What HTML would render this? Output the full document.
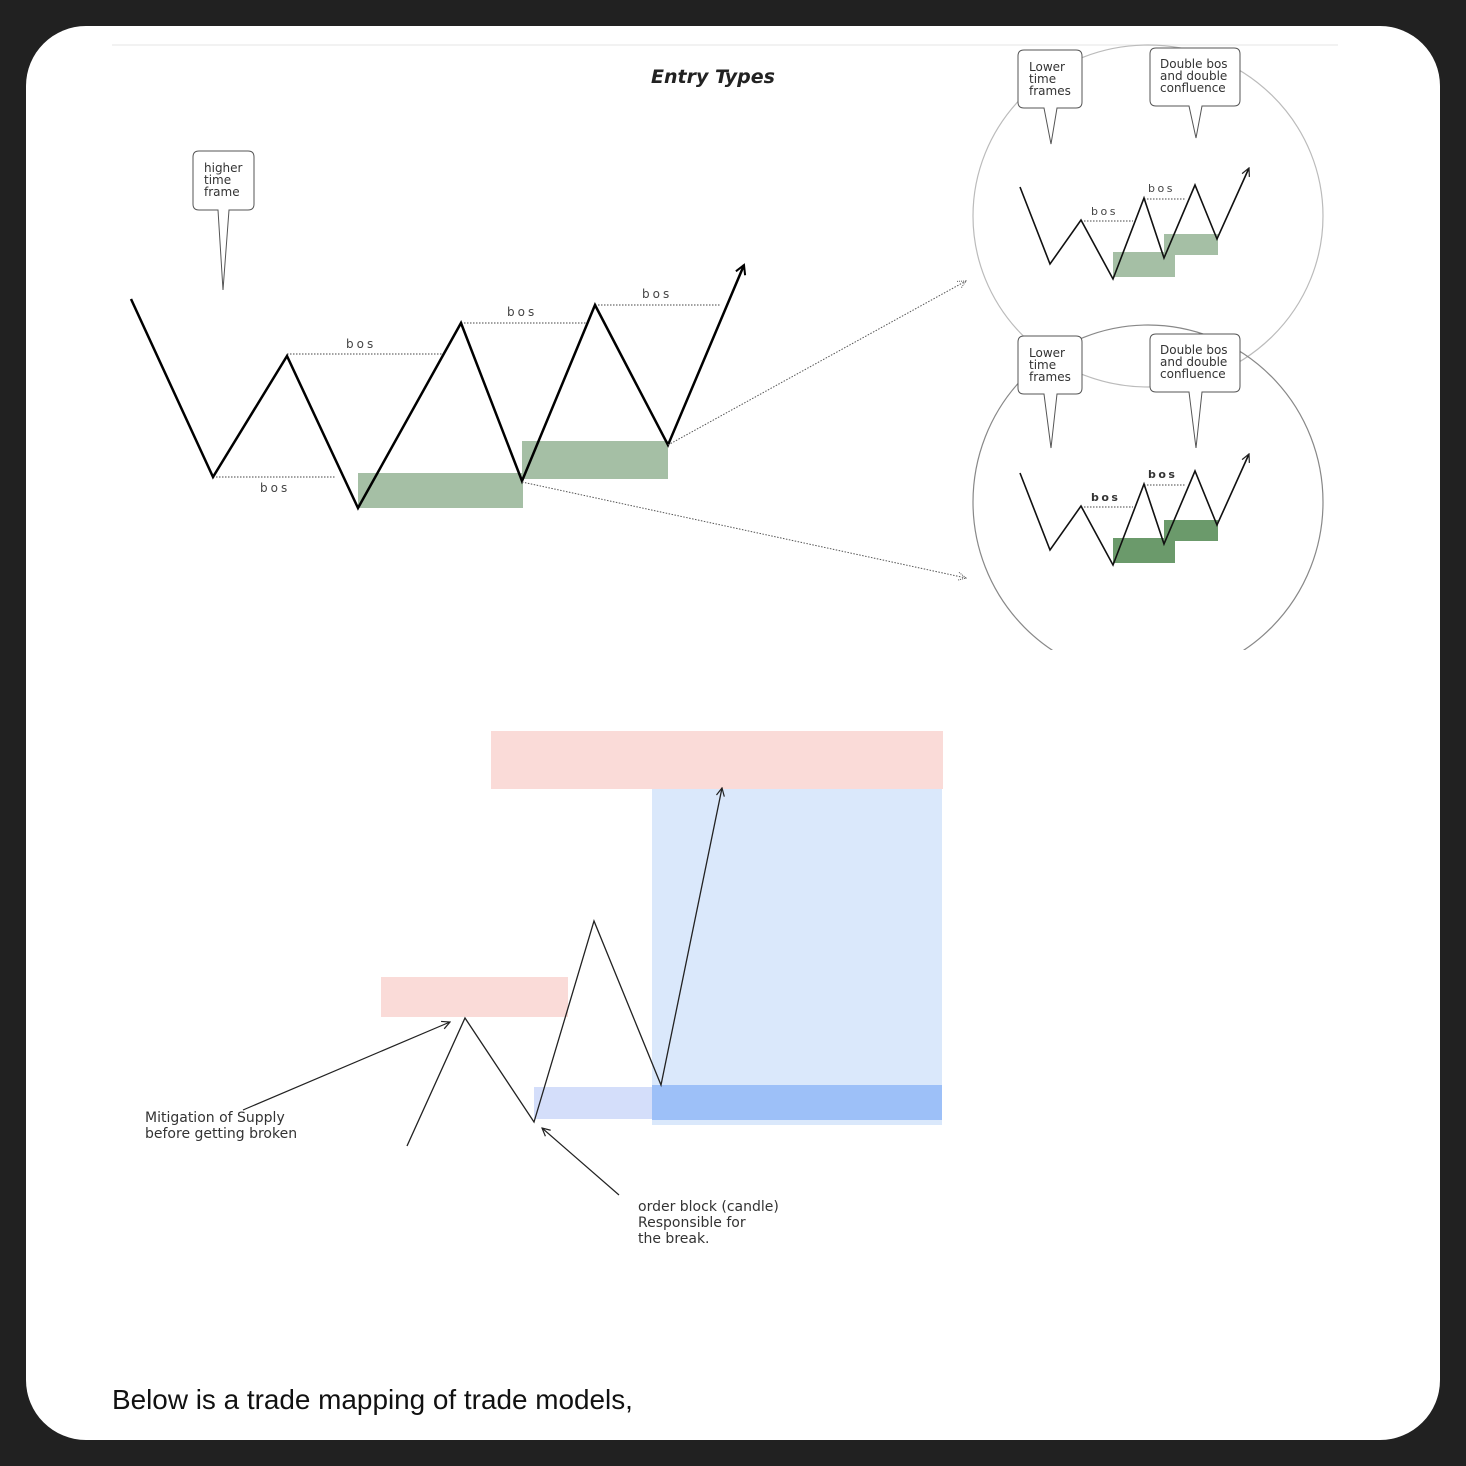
<!DOCTYPE html>
<html><head><meta charset="utf-8"><style>
html,body{margin:0;padding:0;background:#212121;}
svg{display:block}
</style></head><body>
<svg width="1466" height="1466" viewBox="0 0 1466 1466" xmlns="http://www.w3.org/2000/svg" font-family="'DejaVu Sans', 'Liberation Sans', sans-serif">
<defs>
<marker id="ah" markerWidth="12" markerHeight="12" refX="10" refY="6" orient="auto" markerUnits="userSpaceOnUse"><path d="M1,1 L10,6 L1,11" fill="none" stroke="#000" stroke-width="2"/></marker>
<marker id="ahs" markerWidth="10" markerHeight="10" refX="9" refY="5" orient="auto" markerUnits="userSpaceOnUse"><path d="M1,1 L9,5 L1,9" fill="none" stroke="#222" stroke-width="1.2"/></marker>
<marker id="ahd" markerWidth="10" markerHeight="10" refX="9" refY="5" orient="auto" markerUnits="userSpaceOnUse"><path d="M1,1 L9,5 L1,9" fill="none" stroke="#555" stroke-width="1" stroke-dasharray="1 1"/></marker>
</defs>
<rect x="0" y="0" width="1466" height="1466" fill="#212121"/>
<rect x="26" y="26" width="1414" height="1414" rx="60" fill="#fff"/>
<line x1="112" y1="45" x2="1338" y2="45" stroke="#eee" stroke-width="1.5"/>
<text x="713" y="83" font-size="19" font-style="italic" font-weight="bold" text-anchor="middle" fill="#222">Entry Types</text>

<rect x="358" y="473" width="165" height="35" fill="#a5bfa5"/>
<rect x="522" y="441" width="146" height="38" fill="#a5bfa5"/>
<g stroke="#444" stroke-width="1" stroke-dasharray="1.5 1.5">
<line x1="287" y1="354" x2="442" y2="354"/>
<line x1="461" y1="323" x2="590" y2="323"/>
<line x1="595" y1="305" x2="720" y2="305"/>
<line x1="213" y1="477" x2="335" y2="477"/>
</g>
<polyline points="131,299 213,477 287,356 358,508 461,323 522,481 595,305 668,445 744,265" fill="none" stroke="#000" stroke-width="2.5" marker-end="url(#ah)"/>
<g font-size="12" fill="#444" letter-spacing="3">
<text x="346" y="348">bos</text><text x="507" y="316">bos</text><text x="642" y="298">bos</text><text x="260" y="492">bos</text>
</g>
<g stroke="#555" stroke-width="1" stroke-dasharray="1.5 1.5" fill="none">
<line x1="668" y1="445" x2="966" y2="281" marker-end="url(#ahd)"/>
<line x1="522" y1="482" x2="966" y2="578" marker-end="url(#ahd)"/>
</g>
<path d="M199,151 H248 Q254,151 254,157 V204 Q254,210 248,210 H229 L223,290 L218,210 H199 Q193,210 193,204 V157 Q193,151 199,151 Z" fill="#fff" stroke="#555" stroke-width="1"/>
<g font-size="12" fill="#333"><text x="204" y="172">higher</text><text x="204" y="184">time</text><text x="204" y="196">frame</text></g>

<ellipse cx="1148" cy="216" rx="175" ry="171" fill="none" stroke="#bbb" stroke-width="1.2"/>
<clipPath id="cl"><rect x="900" y="300" width="500" height="350"/></clipPath>
<ellipse cx="1148" cy="502" rx="175" ry="177" fill="none" stroke="#888" stroke-width="1.2" clip-path="url(#cl)"/>

<g>
<rect x="1113" y="252" width="62" height="25" fill="#a5bfa5"/>
<rect x="1164" y="234" width="54" height="21" fill="#a5bfa5"/>
<g stroke="#444" stroke-width="1" stroke-dasharray="1.5 1.5">
<line x1="1081" y1="221" x2="1133" y2="221"/><line x1="1144" y1="199" x2="1185" y2="199"/></g>
<polyline points="1020,187 1050,264 1081,220 1113,279 1144,198 1164,258 1195,185 1217,239 1249,168" fill="none" stroke="#111" stroke-width="1.6" marker-end="url(#ahs)"/>
<g font-size="11" fill="#444" letter-spacing="2.5"><text x="1091" y="215">bos</text><text x="1148" y="192">bos</text></g>
<path d="M1024,50 H1076 Q1082,50 1082,56 V102 Q1082,108 1076,108 H1057 L1051,144 L1044,108 H1024 Q1018,108 1018,102 V56 Q1018,50 1024,50 Z" fill="#fff" stroke="#555"/>
<g font-size="12" fill="#333"><text x="1029" y="71">Lower</text><text x="1029" y="83">time</text><text x="1029" y="95">frames</text></g>
<path d="M1156,48 H1234 Q1240,48 1240,54 V100 Q1240,106 1234,106 H1202 L1196,138 L1189,106 H1156 Q1150,106 1150,100 V54 Q1150,48 1156,48 Z" fill="#fff" stroke="#555"/>
<g font-size="12" fill="#333"><text x="1160" y="68">Double bos</text><text x="1160" y="80">and double</text><text x="1160" y="92">confluence</text></g>
</g>
<g transform="translate(0,286)">
<rect x="1113" y="252" width="62" height="25" fill="#6b9a6b"/>
<rect x="1164" y="234" width="54" height="21" fill="#6b9a6b"/>
<g stroke="#444" stroke-width="1" stroke-dasharray="1.5 1.5">
<line x1="1081" y1="221" x2="1133" y2="221"/><line x1="1144" y1="199" x2="1185" y2="199"/></g>
<polyline points="1020,187 1050,264 1081,220 1113,279 1144,198 1164,258 1195,185 1217,239 1249,168" fill="none" stroke="#111" stroke-width="1.6" marker-end="url(#ahs)"/>
<g font-size="11" fill="#333" letter-spacing="2.5" font-weight="bold"><text x="1091" y="215">bos</text><text x="1148" y="192">bos</text></g>
<path d="M1024,50 H1076 Q1082,50 1082,56 V102 Q1082,108 1076,108 H1057 L1051,162 L1044,108 H1024 Q1018,108 1018,102 V56 Q1018,50 1024,50 Z" fill="#fff" stroke="#555"/>
<g font-size="12" fill="#333"><text x="1029" y="71">Lower</text><text x="1029" y="83">time</text><text x="1029" y="95">frames</text></g>
<path d="M1156,48 H1234 Q1240,48 1240,54 V100 Q1240,106 1234,106 H1202 L1196,162 L1189,106 H1156 Q1150,106 1150,100 V54 Q1150,48 1156,48 Z" fill="#fff" stroke="#555"/>
<g font-size="12" fill="#333"><text x="1160" y="68">Double bos</text><text x="1160" y="80">and double</text><text x="1160" y="92">confluence</text></g>
</g>

<rect x="491" y="731" width="452" height="58" fill="#fadbd8"/>
<rect x="652" y="789" width="290" height="336" fill="#dae8fb"/>
<rect x="534" y="1087" width="118" height="32" fill="#d4defa"/>
<rect x="652" y="1085" width="290" height="35" fill="#9dc0f8"/>
<rect x="381" y="977" width="187" height="40" fill="#fadbd8"/>
<polyline points="407,1146 465,1018 534,1122 594,921 661,1085 722,788" fill="none" stroke="#222" stroke-width="1.3" marker-end="url(#ahs)"/>
<line x1="243" y1="1110" x2="450" y2="1022" stroke="#222" stroke-width="1.2" marker-end="url(#ahs)"/>
<line x1="619" y1="1195" x2="542" y2="1128" stroke="#222" stroke-width="1.2" marker-end="url(#ahs)"/>
<g font-size="14" fill="#333"><text x="145" y="1122">Mitigation of Supply</text><text x="145" y="1138">before getting broken</text>
<text x="638" y="1211">order block (candle)</text><text x="638" y="1227">Responsible for</text><text x="638" y="1243">the break.</text></g>

<text x="112" y="1409" font-family="'Liberation Sans', sans-serif" font-size="27.9" fill="#111">Below is a trade mapping of trade models,</text>
</svg>
</body></html>
